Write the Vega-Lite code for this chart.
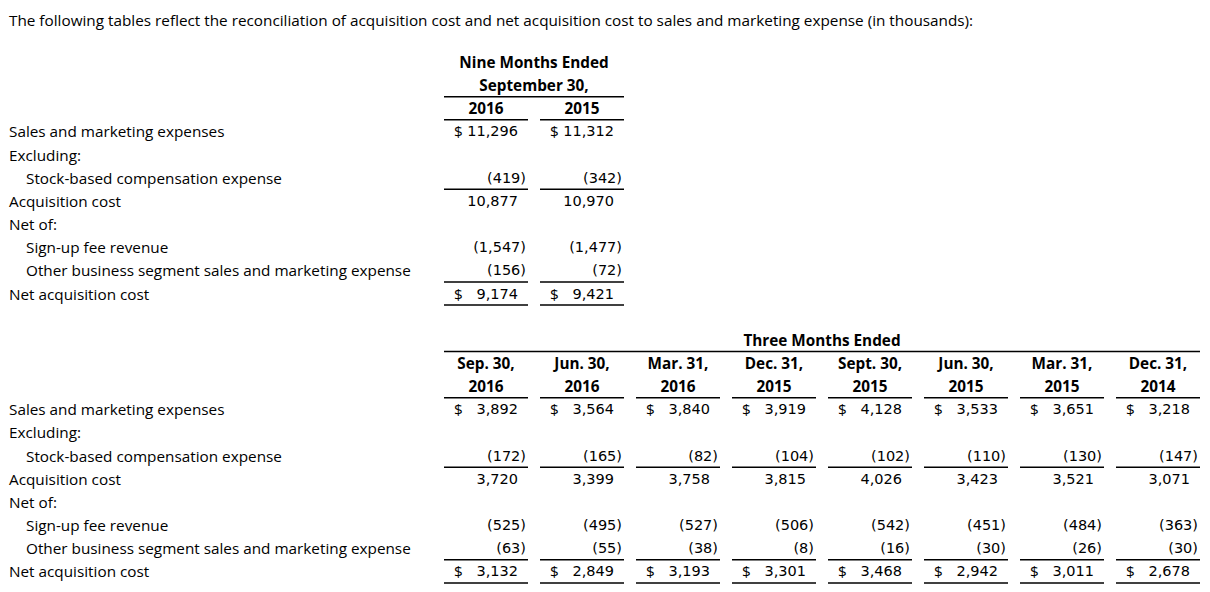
{
  "$schema": "https://vega.github.io/schema/vega-lite/v6.json",
  "width": 1210,
  "height": 592,
  "autosize": {"type": "none"},
  "padding": 0,
  "background": "white",
  "config": {
    "view": {"stroke": null},
    "text": {"font": "Open Sans", "fontSize": 15.3, "color": "#000000", "baseline": "middle", "dy": 1},
    "rule": {"color": "#000000", "strokeWidth": 1.5}
  },
  "datasets": {
    "title": [
      {"line": "t", "level": 0, "text": "The following tables reflect the reconciliation of acquisition cost and net acquisition cost to sales and marketing expense (in thousands):"}
    ],
    "labels": [
      {"line": "L3", "level": 0, "text": "Sales and marketing expenses"},
      {"line": "L4", "level": 0, "text": "Excluding:"},
      {"line": "L5", "level": 1, "text": "Stock-based compensation expense"},
      {"line": "L6", "level": 0, "text": "Acquisition cost"},
      {"line": "L7", "level": 0, "text": "Net of:"},
      {"line": "L8", "level": 1, "text": "Sign-up fee revenue"},
      {"line": "L9", "level": 1, "text": "Other business segment sales and marketing expense"},
      {"line": "L10", "level": 0, "text": "Net acquisition cost"},
      {"line": "L15", "level": 0, "text": "Sales and marketing expenses"},
      {"line": "L16", "level": 0, "text": "Excluding:"},
      {"line": "L17", "level": 1, "text": "Stock-based compensation expense"},
      {"line": "L18", "level": 0, "text": "Acquisition cost"},
      {"line": "L19", "level": 0, "text": "Net of:"},
      {"line": "L20", "level": 1, "text": "Sign-up fee revenue"},
      {"line": "L21", "level": 1, "text": "Other business segment sales and marketing expense"},
      {"line": "L22", "level": 0, "text": "Net acquisition cost"}
    ],
    "spans": [
      {"line": "L0", "text": "Nine Months Ended", "from": "c1", "to": "c2", "mid": "c1", "ruled": false},
      {"line": "L1", "text": "September 30,", "from": "c1", "to": "c2", "mid": "c1", "ruled": true},
      {"line": "L12", "text": "Three Months Ended", "from": "c1", "to": "c8", "mid": "c4", "ruled": true}
    ],
    "heads": [
      {"line": "L2", "col": "c1", "text": "2016"},
      {"line": "L2", "col": "c2", "text": "2015"},
      {"line": "L13", "col": "c1", "text": "Sep. 30,"},
      {"line": "L13", "col": "c2", "text": "Jun. 30,"},
      {"line": "L13", "col": "c3", "text": "Mar. 31,"},
      {"line": "L13", "col": "c4", "text": "Dec. 31,"},
      {"line": "L13", "col": "c5", "text": "Sept. 30,"},
      {"line": "L13", "col": "c6", "text": "Jun. 30,"},
      {"line": "L13", "col": "c7", "text": "Mar. 31,"},
      {"line": "L13", "col": "c8", "text": "Dec. 31,"},
      {"line": "L14", "col": "c1", "text": "2016"},
      {"line": "L14", "col": "c2", "text": "2016"},
      {"line": "L14", "col": "c3", "text": "2016"},
      {"line": "L14", "col": "c4", "text": "2015"},
      {"line": "L14", "col": "c5", "text": "2015"},
      {"line": "L14", "col": "c6", "text": "2015"},
      {"line": "L14", "col": "c7", "text": "2015"},
      {"line": "L14", "col": "c8", "text": "2014"}
    ],
    "cells": [
      {"line": "L3", "col": "c1", "value": 11296, "currency": true},
      {"line": "L3", "col": "c2", "value": 11312, "currency": true},
      {"line": "L5", "col": "c1", "value": -419, "currency": false},
      {"line": "L5", "col": "c2", "value": -342, "currency": false},
      {"line": "L6", "col": "c1", "value": 10877, "currency": false},
      {"line": "L6", "col": "c2", "value": 10970, "currency": false},
      {"line": "L8", "col": "c1", "value": -1547, "currency": false},
      {"line": "L8", "col": "c2", "value": -1477, "currency": false},
      {"line": "L9", "col": "c1", "value": -156, "currency": false},
      {"line": "L9", "col": "c2", "value": -72, "currency": false},
      {"line": "L10", "col": "c1", "value": 9174, "currency": true},
      {"line": "L10", "col": "c2", "value": 9421, "currency": true},

      {"line": "L15", "col": "c1", "value": 3892, "currency": true},
      {"line": "L15", "col": "c2", "value": 3564, "currency": true},
      {"line": "L15", "col": "c3", "value": 3840, "currency": true},
      {"line": "L15", "col": "c4", "value": 3919, "currency": true},
      {"line": "L15", "col": "c5", "value": 4128, "currency": true},
      {"line": "L15", "col": "c6", "value": 3533, "currency": true},
      {"line": "L15", "col": "c7", "value": 3651, "currency": true},
      {"line": "L15", "col": "c8", "value": 3218, "currency": true},

      {"line": "L17", "col": "c1", "value": -172, "currency": false},
      {"line": "L17", "col": "c2", "value": -165, "currency": false},
      {"line": "L17", "col": "c3", "value": -82, "currency": false},
      {"line": "L17", "col": "c4", "value": -104, "currency": false},
      {"line": "L17", "col": "c5", "value": -102, "currency": false},
      {"line": "L17", "col": "c6", "value": -110, "currency": false},
      {"line": "L17", "col": "c7", "value": -130, "currency": false},
      {"line": "L17", "col": "c8", "value": -147, "currency": false},

      {"line": "L18", "col": "c1", "value": 3720, "currency": false},
      {"line": "L18", "col": "c2", "value": 3399, "currency": false},
      {"line": "L18", "col": "c3", "value": 3758, "currency": false},
      {"line": "L18", "col": "c4", "value": 3815, "currency": false},
      {"line": "L18", "col": "c5", "value": 4026, "currency": false},
      {"line": "L18", "col": "c6", "value": 3423, "currency": false},
      {"line": "L18", "col": "c7", "value": 3521, "currency": false},
      {"line": "L18", "col": "c8", "value": 3071, "currency": false},

      {"line": "L20", "col": "c1", "value": -525, "currency": false},
      {"line": "L20", "col": "c2", "value": -495, "currency": false},
      {"line": "L20", "col": "c3", "value": -527, "currency": false},
      {"line": "L20", "col": "c4", "value": -506, "currency": false},
      {"line": "L20", "col": "c5", "value": -542, "currency": false},
      {"line": "L20", "col": "c6", "value": -451, "currency": false},
      {"line": "L20", "col": "c7", "value": -484, "currency": false},
      {"line": "L20", "col": "c8", "value": -363, "currency": false},

      {"line": "L21", "col": "c1", "value": -63, "currency": false},
      {"line": "L21", "col": "c2", "value": -55, "currency": false},
      {"line": "L21", "col": "c3", "value": -38, "currency": false},
      {"line": "L21", "col": "c4", "value": -8, "currency": false},
      {"line": "L21", "col": "c5", "value": -16, "currency": false},
      {"line": "L21", "col": "c6", "value": -30, "currency": false},
      {"line": "L21", "col": "c7", "value": -26, "currency": false},
      {"line": "L21", "col": "c8", "value": -30, "currency": false},

      {"line": "L22", "col": "c1", "value": 3132, "currency": true},
      {"line": "L22", "col": "c2", "value": 2849, "currency": true},
      {"line": "L22", "col": "c3", "value": 3193, "currency": true},
      {"line": "L22", "col": "c4", "value": 3301, "currency": true},
      {"line": "L22", "col": "c5", "value": 3468, "currency": true},
      {"line": "L22", "col": "c6", "value": 2942, "currency": true},
      {"line": "L22", "col": "c7", "value": 3011, "currency": true},
      {"line": "L22", "col": "c8", "value": 2678, "currency": true}
    ],
    "underlines": [
      {"line": "L2", "col": "c1"}, {"line": "L2", "col": "c2"},
      {"line": "L5", "col": "c1"}, {"line": "L5", "col": "c2"},
      {"line": "L9", "col": "c1"}, {"line": "L9", "col": "c2"},
      {"line": "L10", "col": "c1"}, {"line": "L10", "col": "c2"},
      {"line": "L14", "col": "c1"}, {"line": "L14", "col": "c2"}, {"line": "L14", "col": "c3"}, {"line": "L14", "col": "c4"},
      {"line": "L14", "col": "c5"}, {"line": "L14", "col": "c6"}, {"line": "L14", "col": "c7"}, {"line": "L14", "col": "c8"},
      {"line": "L17", "col": "c1"}, {"line": "L17", "col": "c2"}, {"line": "L17", "col": "c3"}, {"line": "L17", "col": "c4"},
      {"line": "L17", "col": "c5"}, {"line": "L17", "col": "c6"}, {"line": "L17", "col": "c7"}, {"line": "L17", "col": "c8"},
      {"line": "L21", "col": "c1"}, {"line": "L21", "col": "c2"}, {"line": "L21", "col": "c3"}, {"line": "L21", "col": "c4"},
      {"line": "L21", "col": "c5"}, {"line": "L21", "col": "c6"}, {"line": "L21", "col": "c7"}, {"line": "L21", "col": "c8"},
      {"line": "L22", "col": "c1"}, {"line": "L22", "col": "c2"}, {"line": "L22", "col": "c3"}, {"line": "L22", "col": "c4"},
      {"line": "L22", "col": "c5"}, {"line": "L22", "col": "c6"}, {"line": "L22", "col": "c7"}, {"line": "L22", "col": "c8"}
    ]
  },
  "resolve": {"scale": {"x": "independent"}},
  "layer": [
    {
      "data": {"name": "title"},
      "mark": {"type": "text", "align": "left", "dy": 5},
      "encoding": {
        "x": {"field": "level", "type": "quantitative", "scale": {"domain": [0, 1], "range": [9, 26]}, "axis": null},
        "y": {"field": "line", "type": "nominal", "scale": {"type": "band", "domain": ["t","g0","L0","L1","L2","L3","L4","L5","L6","L7","L8","L9","L10","L11","L12","L13","L14","L15","L16","L17","L18","L19","L20","L21","L22"], "range": [4, 583], "paddingInner": 0, "paddingOuter": 0}, "axis": null},
        "text": {"field": "text"}
      }
    },
    {
      "data": {"name": "labels"},
      "mark": {"type": "text", "align": "left"},
      "encoding": {
        "x": {"field": "level", "type": "quantitative", "scale": {"domain": [0, 1], "range": [9, 26]}, "axis": null},
        "y": {"field": "line", "type": "nominal", "scale": {"type": "band", "domain": ["t","g0","L0","L1","L2","L3","L4","L5","L6","L7","L8","L9","L10","L11","L12","L13","L14","L15","L16","L17","L18","L19","L20","L21","L22"], "range": [4, 583], "paddingInner": 0, "paddingOuter": 0}, "axis": null},
        "text": {"field": "text"}
      }
    },
    {
      "encoding": {
        "y": {"field": "line", "type": "nominal", "scale": {"type": "band", "domain": ["t","g0","L0","L1","L2","L3","L4","L5","L6","L7","L8","L9","L10","L11","L12","L13","L14","L15","L16","L17","L18","L19","L20","L21","L22"], "range": [4, 583], "paddingInner": 0, "paddingOuter": 0}, "axis": null}
      },
      "layer": [
        {
          "data": {"name": "heads"},
          "mark": {"type": "text", "align": "center", "fontWeight": "bold"},
          "encoding": {
            "x": {"field": "col", "type": "nominal", "scale": {"type": "band", "domain": ["c1","c2","c3","c4","c5","c6","c7","c8"], "range": [444, 1200], "paddingInner": 0.125, "paddingOuter": 0}, "axis": null},
            "text": {"field": "text"}
          }
        },
        {
          "data": {"name": "spans"},
          "mark": {"type": "text", "align": "center", "fontWeight": "bold", "dx": 6},
          "encoding": {
            "x": {"field": "mid", "type": "nominal", "bandPosition": 1, "scale": {"type": "band", "domain": ["c1","c2","c3","c4","c5","c6","c7","c8"], "range": [444, 1200], "paddingInner": 0.125, "paddingOuter": 0}, "axis": null},
            "text": {"field": "text"}
          }
        },
        {
          "data": {"name": "spans"},
          "transform": [{"filter": "datum.ruled"}],
          "mark": {"type": "rule"},
          "encoding": {
            "x": {"field": "from", "type": "nominal", "bandPosition": 0, "scale": {"type": "band", "domain": ["c1","c2","c3","c4","c5","c6","c7","c8"], "range": [444, 1200], "paddingInner": 0.125, "paddingOuter": 0}, "axis": null},
            "x2": {"field": "to", "bandPosition": 1},
            "y": {"field": "line", "type": "nominal", "bandPosition": 1}
          }
        },
        {
          "data": {"name": "underlines"},
          "mark": {"type": "rule"},
          "encoding": {
            "x": {"field": "col", "type": "nominal", "bandPosition": 0, "scale": {"type": "band", "domain": ["c1","c2","c3","c4","c5","c6","c7","c8"], "range": [444, 1200], "paddingInner": 0.125, "paddingOuter": 0}, "axis": null},
            "x2": {"field": "col", "bandPosition": 1},
            "y": {"field": "line", "type": "nominal", "bandPosition": 1}
          }
        },
        {
          "data": {"name": "cells"},
          "transform": [{"filter": "datum.value >= 0"}],
          "mark": {"type": "text", "align": "right", "dx": -10, "font": "DejaVu Sans", "fontSize": 14.5},
          "encoding": {
            "x": {"field": "col", "type": "nominal", "bandPosition": 1, "scale": {"type": "band", "domain": ["c1","c2","c3","c4","c5","c6","c7","c8"], "range": [444, 1200], "paddingInner": 0.125, "paddingOuter": 0}, "axis": null},
            "text": {"field": "value", "type": "quantitative", "format": "(,d"}
          }
        },
        {
          "data": {"name": "cells"},
          "transform": [{"filter": "datum.value < 0"}],
          "mark": {"type": "text", "align": "right", "dx": -2, "font": "DejaVu Sans", "fontSize": 14.5},
          "encoding": {
            "x": {"field": "col", "type": "nominal", "bandPosition": 1, "scale": {"type": "band", "domain": ["c1","c2","c3","c4","c5","c6","c7","c8"], "range": [444, 1200], "paddingInner": 0.125, "paddingOuter": 0}, "axis": null},
            "text": {"field": "value", "type": "quantitative", "format": "(,d"}
          }
        },
        {
          "data": {"name": "cells"},
          "transform": [{"filter": "datum.currency"}],
          "mark": {"type": "text", "align": "left", "dx": 10},
          "encoding": {
            "x": {"field": "col", "type": "nominal", "bandPosition": 0, "scale": {"type": "band", "domain": ["c1","c2","c3","c4","c5","c6","c7","c8"], "range": [444, 1200], "paddingInner": 0.125, "paddingOuter": 0}, "axis": null},
            "text": {"value": "$"}
          }
        }
      ]
    }
  ]
}
